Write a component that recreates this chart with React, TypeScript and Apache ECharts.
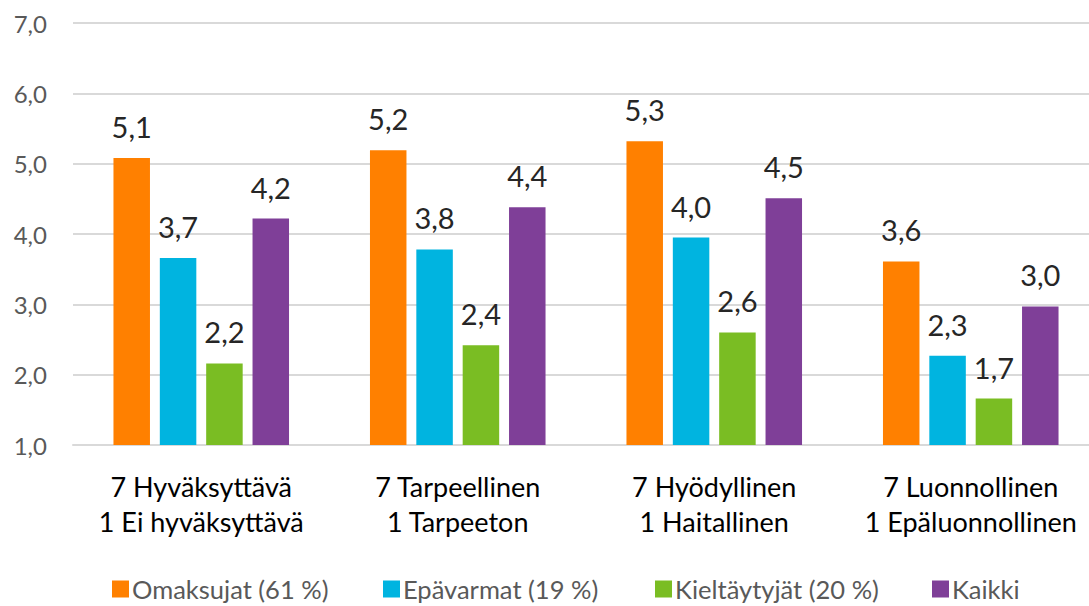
import React, { useEffect, useRef } from "react";
import * as echarts from "echarts";

const categories = [
  "7 Hyväksyttävä\n1 Ei hyväksyttävä",
  "7 Tarpeellinen\n1 Tarpeeton",
  "7 Hyödyllinen\n1 Haitallinen",
  "7 Luonnollinen\n1 Epäluonnollinen",
];
const seriesNames = ["Omaksujat (61 %)", "Epävarmat (19 %)", "Kieltäytyjät (20 %)", "Kaikki"];
const omaksujat = [5.08, 5.19, 5.32, 3.61];
const epavarmat = [3.66, 3.78, 3.95, 2.27];
const kieltaytyjat = [2.16, 2.42, 2.6, 1.66];
const kaikki = [4.22, 4.38, 4.51, 2.97];
const colors = ["#FF8000", "#00B4E0", "#7ABD23", "#7F3F98"];

const fmt = (v: number) => v.toFixed(1).replace(".", ",");
const FONT = "Lato, 'Open Sans', sans-serif";
const legendLefts = [112, 383, 655, 932];

export default function App() {
  const ref = useRef<HTMLDivElement>(null);
  useEffect(() => {
    if (!ref.current) return;
    const chart = echarts.init(ref.current, undefined, { renderer: "svg" });
    const data = [omaksujat, epavarmat, kieltaytyjat, kaikki];
    chart.setOption({
      animation: false,
      textStyle: { fontFamily: FONT },
      grid: { left: 73, right: 11, top: 23, bottom: 161, containLabel: false },
      legend: seriesNames.map((name, i) => ({
        top: 576,
        left: legendLefts[i],
        padding: 0,
        icon: "rect",
        itemWidth: 17,
        itemHeight: 17,
        itemGap: 0,
        textStyle: {
          color: "#595959",
          fontSize: 25.5,
          lineHeight: 26,
          fontFamily: FONT,
          padding: [0, 0, 0, -2],
        },
        data: [name],
      })),
      xAxis: {
        type: "category",
        data: categories,
        axisLine: { show: true, lineStyle: { color: "#d9d9d9", width: 2 } },
        axisTick: { show: false },
        axisLabel: {
          color: "#000",
          fontSize: 27,
          lineHeight: 35,
          margin: 24,
          interval: 0,
          fontFamily: FONT,
        },
      },
      yAxis: {
        type: "value",
        min: 1,
        max: 7,
        interval: 1,
        axisLine: { show: false },
        axisTick: { show: false },
        splitLine: { lineStyle: { color: "#d9d9d9", width: 2 } },
        axisLabel: {
          color: "#595959",
          fontSize: 24,
          margin: 26,
          formatter: (v: number) => fmt(v),
          fontFamily: FONT,
        },
      },
      series: seriesNames.map((name, i) => ({
        name,
        type: "bar",
        data: data[i],
        barWidth: 36.5,
        barGap: "27%",
        itemStyle: { color: colors[i] },
        label: {
          show: true,
          position: "top",
          distance: 17,
          color: "#262626",
          fontSize: 29,
          fontFamily: FONT,
          formatter: (p: any) => fmt(p.value),
        },
      })),
    });
    return () => chart.dispose();
  }, []);
  return (
    <div
      style={{ position: "fixed", left: 0, top: 0, width: 1089, height: 606, overflow: "hidden", background: "#fff" }}
    >
      <div ref={ref} style={{ width: 1110, height: 606 }} />
    </div>
  );
}
